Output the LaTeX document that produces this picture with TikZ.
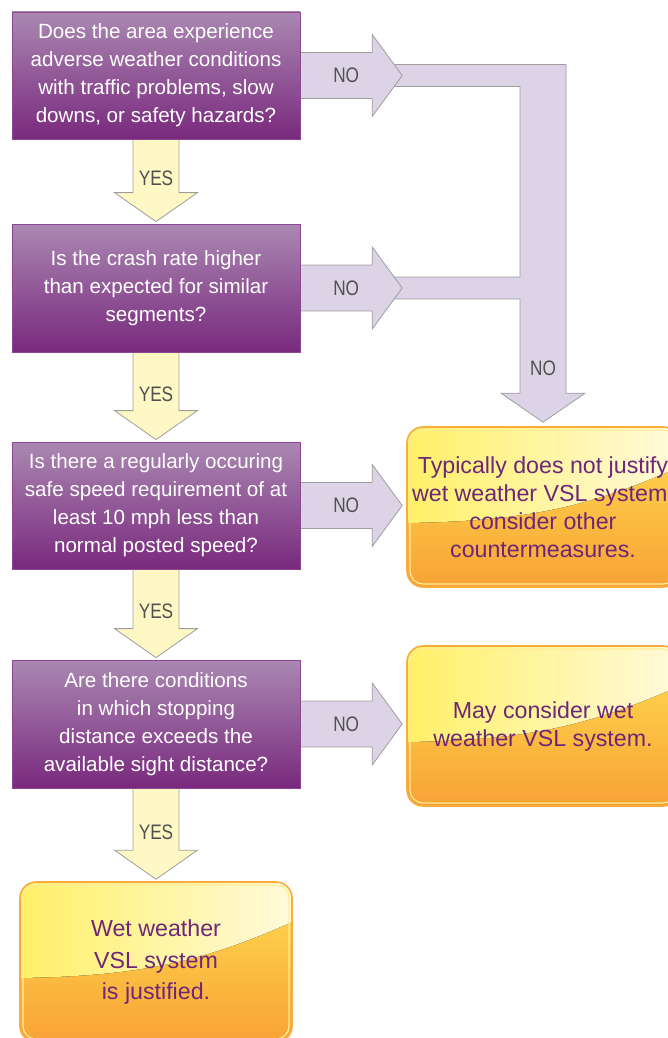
\documentclass[tikz,border=0pt]{standalone}
\usepackage{fontspec}
\setmainfont{Liberation Sans}
\newfontfamily\lblfont{Liberation Sans}[FakeStretch=0.82]
\usetikzlibrary{calc}

\pgfdeclarelayer{bg}
\pgfsetlayers{bg,main}

\definecolor{qtop}{RGB}{170,136,178}
\definecolor{qbot}{RGB}{121,41,125}
\definecolor{qline}{RGB}{140,70,146}
\definecolor{yesfill}{RGB}{255,248,196}
\definecolor{nofill}{RGB}{221,211,230}
\definecolor{arrline}{RGB}{158,158,158}
\definecolor{rtop}{RGB}{255,222,80}
\definecolor{rbot}{RGB}{248,162,54}
\definecolor{rline}{RGB}{250,172,58}
\definecolor{glossL}{RGB}{255,240,104}
\definecolor{glossR}{RGB}{255,250,220}
\definecolor{rinner}{RGB}{255,238,150}
\definecolor{rtext}{RGB}{110,38,120}
\definecolor{lbltext}{RGB}{80,80,80}

\tikzset{
    question/.style={rectangle, draw=qline, line width=0.8pt, top color=qtop, bottom color=qbot,
        minimum width=288pt, minimum height=127pt, align=center, text=white,
        font=\fontsize{20.6}{28}\selectfont},
    result/.style={rectangle, rounded corners=16pt, draw=rline, line width=1.6pt,
        top color=rtop, bottom color=rbot, minimum width=272pt, minimum height=160pt,
        align=center, text=rtext, font=\fontsize{23.2}{28}\selectfont,
        path picture={
            \fill[left color=glossL, right color=glossR, sharp corners]
                ([yshift=-96pt]path picture bounding box.north west)
                .. controls +(120,-2) and +(-90,40) ..
                ([yshift=-40pt]path picture bounding box.north east)
                -- (path picture bounding box.north east)
                -- (path picture bounding box.north west) -- cycle;
            \draw[rinner, line width=1.2pt, rounded corners=13pt]
                ([shift={(3pt,-3pt)}]path picture bounding box.north west) rectangle
                ([shift={(-3pt,3pt)}]path picture bounding box.south east);
        }},
    yesarrow/.style={draw=arrline, fill=yesfill, line width=0.8pt},
    noarrow/.style={draw=arrline, fill=nofill, line width=0.8pt},
    lbl/.style={text=lbltext, font=\fontsize{21}{21}\lblfont, inner sep=0pt}
}

\begin{document}
\begin{tikzpicture}[x=1pt, y=-1pt]
    \useasboundingbox (0,0) rectangle (668,1038);

    \node[question] (q1) at (156,75.5) {Does the area experience\\adverse weather conditions\\with traffic problems, slow\\downs, or safety hazards?};
    \node[question, minimum height=128pt] (q2) at (156,288) {Is the crash rate higher\\than expected for similar\\segments?};
    \node[question] (q3) at (156,505.5) {Is there a regularly occuring\\safe speed requirement of at\\least 10 mph less than\\normal posted speed?};
    \node[question, minimum height=128pt] (q4) at (156,724) {Are there conditions\\in which stopping\\distance exceeds the\\available sight distance?};

    \node[result] (r1) at (543,507) {Typically does not justify\\wet weather VSL system;\\consider other\\countermeasures.};
    \node[result] (r2) at (543,726) {May consider wet\\weather VSL system.};
    \node[result, font=\fontsize{23.2}{31.5}\selectfont] (r3) at (156,962) {Wet weather\\VSL system\\is justified.};

    \coordinate (j1) at (q1.east -| r1.north);
    \coordinate (j2) at (q2.east -| r1.north);

    \begin{pgfonlayer}{bg}
        % Band that collects the first two NO answers.
        \draw[noarrow] ($(q1.east)+(85,-11)$) -- ($(j1)+(23,-11)$) -- ($(r1.north)+(23,-33)$)
            -- ($(r1.north)+(42,-33)$) -- ($(r1.north)+(0,-4)$) -- ($(r1.north)+(-42,-33)$)
            -- ($(r1.north)+(-23,-33)$) -- ($(j2)+(-23,11)$) -- ($(q2.east)+(85,11)$)
            -- ($(q2.east)+(85,-11)$) -- ($(j2)+(-23,-11)$) -- ($(j1)+(-23,11)$)
            -- ($(q1.east)+(85,11)$) -- cycle;

        \foreach \a/\b in {q1/r1,q2/r1,q3/r1,q4/r2}
            \draw[noarrow] ($(\a.east)+(-4,-23)$) -- ($(\a.east -| \b.west)+(-34,-23)$)
                -- ($(\a.east -| \b.west)+(-34,-41)$) -- ($(\a.east -| \b.west)+(-4,0)$)
                -- ($(\a.east -| \b.west)+(-34,41)$) -- ($(\a.east -| \b.west)+(-34,23)$)
                -- ($(\a.east)+(-4,23)$) -- cycle;

        \foreach \a/\b in {q1/q2,q2/q3,q3/q4,q4/r3}
            \draw[yesarrow] ($(\a.south)+(-23,-4)$) -- ($(\b.north)+(-23,-31)$)
                -- ($(\b.north)+(-41.5,-31)$) -- ($(\b.north)+(0,-2)$)
                -- ($(\b.north)+(41.5,-31)$) -- ($(\b.north)+(23,-31)$)
                -- ($(\a.south)+(23,-4)$) -- cycle;
    \end{pgfonlayer}

    \foreach \a/\b in {q1/r1,q2/r1,q3/r1,q4/r2}
        \node[lbl] (no-\a) at ($(\a.east -| \b.west)+(-60,0)$) {NO};
    \node[lbl] (no-down) at ($(r1.north)+(0,-58)$) {NO};

    \foreach \a/\b in {q1/q2,q2/q3,q3/q4,q4/r3}
        \node[lbl] (yes-\a) at ($(\a.south)!0.5!(\b.north)+(0,-3)$) {YES};
\end{tikzpicture}
\end{document}
